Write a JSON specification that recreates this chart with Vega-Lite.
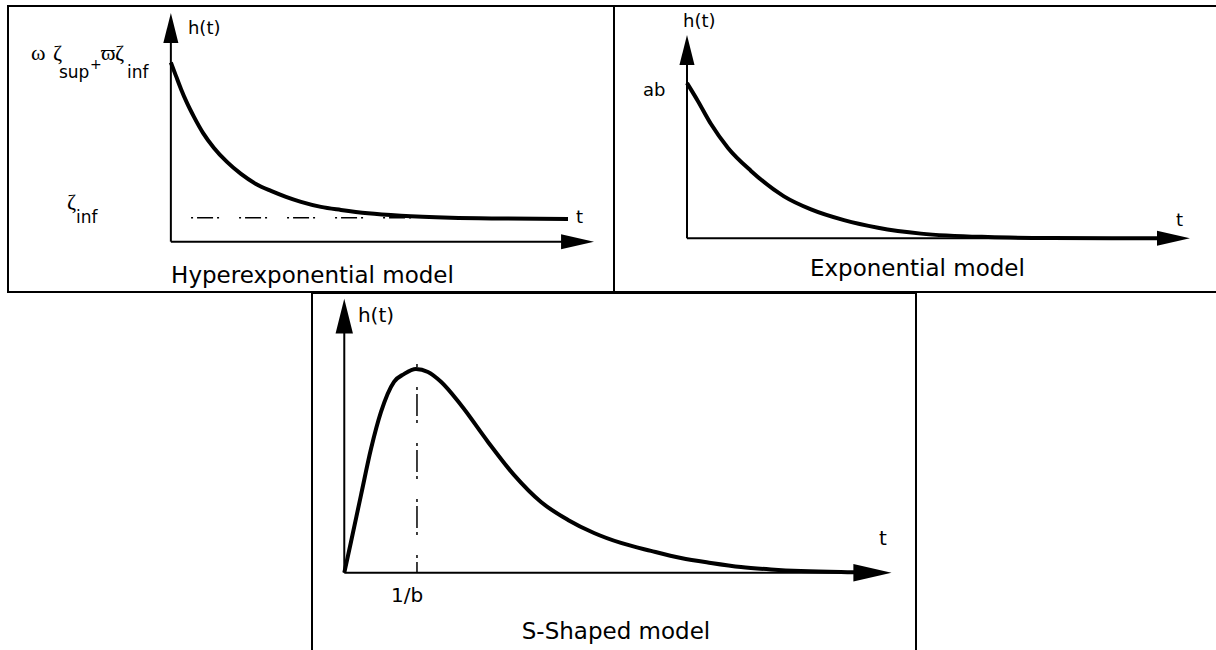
{
  "$schema": "https://vega.github.io/schema/vega-lite/v6.json",
  "background": "white",
  "padding": {"left": 7, "top": 5, "right": 0, "bottom": 0},
  "config": {"view": {"stroke": null}, "concat": {"spacing": 0}},
  "spacing": -2,
  "vconcat": [
    {
      "hconcat": [
        {
          "width": 606,
          "height": 286,
          "view": {"stroke": "black", "strokeWidth": 2},
          "encoding": {
            "x": {"field": "t", "type": "quantitative", "scale": {"domain": [-3.87, 10.53], "nice": false, "zero": false}, "axis": null},
            "y": {"field": "h", "type": "quantitative", "scale": {"domain": [-0.281, 1.315], "nice": false, "zero": false}, "axis": null}
          },
          "layer": [
            {
              "data": {"values": [
                {"t": 0, "h": 0, "t2": 0, "h2": 1.19},
                {"t": 0, "h": 0, "t2": 9.66, "h2": 0}
              ]},
              "mark": {"type": "rule", "color": "black", "strokeWidth": 2},
              "encoding": {"x2": {"field": "t2"}, "y2": {"field": "h2"}}
            },
            {
              "data": {"values": [
                {"t": 0.48, "h": 0.133, "t2": 9.44, "h2": 0.133}
              ]},
              "mark": {"type": "rule", "color": "black", "strokeWidth": 1.5, "strokeDash": [2, 4, 16, 4, 2, 20]},
              "encoding": {"x2": {"field": "t2"}, "y2": {"field": "h2"}}
            },
            {
              "data": {"values": [
                {"t": 0, "h": 1.0}, {"t": 0.121, "h": 0.925}, {"t": 0.24, "h": 0.852},
                {"t": 0.383, "h": 0.774}, {"t": 0.549, "h": 0.696}, {"t": 0.763, "h": 0.607},
                {"t": 1.024, "h": 0.523}, {"t": 1.333, "h": 0.445}, {"t": 1.666, "h": 0.378},
                {"t": 2.022, "h": 0.322}, {"t": 2.379, "h": 0.283}, {"t": 2.735, "h": 0.25},
                {"t": 3.092, "h": 0.222}, {"t": 3.567, "h": 0.194}, {"t": 4.042, "h": 0.177},
                {"t": 4.684, "h": 0.158}, {"t": 5.468, "h": 0.144}, {"t": 6.656, "h": 0.133},
                {"t": 7.844, "h": 0.129}, {"t": 9.437, "h": 0.127}
              ]},
              "mark": {"type": "line", "interpolate": "monotone", "color": "black", "strokeWidth": 4}
            },
            {
              "data": {"values": [
                {"t": 0, "h": 1.1925, "dir": "up"},
                {"t": 9.663, "h": 0, "dir": "right"}
              ]},
              "mark": {"type": "point", "filled": true, "opacity": 1, "color": "black", "size": 1024, "strokeWidth": 0},
              "encoding": {
                "shape": {"field": "dir", "type": "nominal", "legend": null,
                  "scale": {"domain": ["up", "right"], "range": ["M0,-0.94L0.47,0.94L-0.47,0.94Z", "M1.03,0L-1.03,-0.47L-1.03,0.47Z"]}}
              }
            },
            {
              "data": {"values": [
                {"t": 0.406, "h": 1.159, "label": "h(t)"},
                {"t": 9.626, "h": 0.104, "label": "t"}
              ]},
              "mark": {"type": "text", "align": "left", "baseline": "alphabetic", "font": "DejaVu Sans", "fontSize": 18, "color": "black"},
              "encoding": {"text": {"field": "label"}}
            },
            {
              "data": {"values": [
                {"t": -3.325, "h": 1.014, "label": "ω"},
                {"t": -2.802, "h": 1.014, "label": "ζ"},
                {"t": -1.661, "h": 1.014, "label": "ϖ"},
                {"t": -1.328, "h": 1.014, "label": "ζ"},
                {"t": -2.469, "h": 0.1825, "label": "ζ"}
              ]},
              "mark": {"type": "text", "align": "left", "baseline": "alphabetic", "font": "Liberation Serif, DejaVu Serif", "fontSize": 22, "color": "black"},
              "encoding": {"text": {"field": "label"}}
            },
            {
              "data": {"values": [
                {"t": -2.659, "h": 0.911, "label": "sup"},
                {"t": -1.043, "h": 0.911, "label": "inf"},
                {"t": -2.255, "h": 0.104, "label": "inf"}
              ]},
              "mark": {"type": "text", "align": "left", "baseline": "alphabetic", "font": "DejaVu Sans", "fontSize": 17, "color": "black"},
              "encoding": {"text": {"field": "label"}}
            },
            {
              "data": {"values": [
                {"t": -1.923, "h": 0.964, "label": "+"}
              ]},
              "mark": {"type": "text", "align": "left", "baseline": "alphabetic", "font": "DejaVu Sans", "fontSize": 14, "color": "black"},
              "encoding": {"text": {"field": "label"}}
            },
            {
              "data": {"values": [
                {"t": 3.365, "h": -0.229, "label": "Hyperexponential model"}
              ]},
              "mark": {"type": "text", "align": "center", "baseline": "alphabetic", "font": "DejaVu Sans", "fontSize": 23, "color": "black"},
              "encoding": {"text": {"field": "label"}}
            }
          ]
        },
        {
          "width": 603,
          "height": 286,
          "view": {"stroke": "black", "strokeWidth": 2},
          "encoding": {
            "x": {"field": "t", "type": "quantitative", "scale": {"domain": [-1.454, 10.558], "nice": false, "zero": false}, "axis": null},
            "y": {"field": "h", "type": "quantitative", "scale": {"domain": [-0.346, 1.496], "nice": false, "zero": false}, "axis": null}
          },
          "layer": [
            {
              "data": {"values": [
                {"t": 0, "h": 0, "t2": 0, "h2": 1.21},
                {"t": 0, "h": 0, "t2": 9.69, "h2": 0}
              ]},
              "mark": {"type": "rule", "color": "black", "strokeWidth": 2},
              "encoding": {"x2": {"field": "t2"}, "y2": {"field": "h2"}}
            },
            {
              "data": {"values": [
                {"t": 0, "h": 1.0}, {"t": 0.219, "h": 0.883}, {"t": 0.478, "h": 0.736},
                {"t": 0.817, "h": 0.582}, {"t": 1.275, "h": 0.434}, {"t": 1.932, "h": 0.27},
                {"t": 2.47, "h": 0.186}, {"t": 3.127, "h": 0.117}, {"t": 3.805, "h": 0.068},
                {"t": 4.661, "h": 0.03}, {"t": 5.996, "h": 0.008}, {"t": 7.251, "h": 0.002},
                {"t": 9.382, "h": 0.0}
              ]},
              "mark": {"type": "line", "interpolate": "monotone", "color": "black", "strokeWidth": 4}
            },
            {
              "data": {"values": [
                {"t": 0, "h": 1.2125, "dir": "up"},
                {"t": 9.691, "h": 0, "dir": "right"}
              ]},
              "mark": {"type": "point", "filled": true, "opacity": 1, "color": "black", "size": 1024, "strokeWidth": 0},
              "encoding": {
                "shape": {"field": "dir", "type": "nominal", "legend": null,
                  "scale": {"domain": ["up", "right"], "range": ["M0,-1L0.47,1L-0.47,1Z", "M0.97,0L-0.97,-0.44L-0.97,0.44Z"]}}
              }
            },
            {
              "data": {"values": [
                {"t": -0.08, "h": 1.361, "label": "h(t)"},
                {"t": -0.876, "h": 0.917, "label": "ab"},
                {"t": 9.741, "h": 0.079, "label": "t"}
              ]},
              "mark": {"type": "text", "align": "left", "baseline": "alphabetic", "font": "DejaVu Sans", "fontSize": 18, "color": "black"},
              "encoding": {"text": {"field": "label"}}
            },
            {
              "data": {"values": [
                {"t": 4.59, "h": -0.243, "label": "Exponential model"}
              ]},
              "mark": {"type": "text", "align": "center", "baseline": "alphabetic", "font": "DejaVu Sans", "fontSize": 23, "color": "black"},
              "encoding": {"text": {"field": "label"}}
            }
          ]
        }
      ],
      "spacing": 0,
      "bounds": "flush"
    },
    {
      "hconcat": [
        {
          "width": 304,
          "height": 361,
          "view": {"stroke": null},
          "data": {"values": []},
          "mark": "point"
        },
        {
          "width": 604,
          "height": 361,
          "view": {"stroke": "black", "strokeWidth": 2},
          "encoding": {
            "x": {"field": "t", "type": "quantitative", "scale": {"domain": [-0.444, 7.864], "nice": false, "zero": false}, "axis": null},
            "y": {"field": "h", "type": "quantitative", "scale": {"domain": [-0.399, 1.373], "nice": false, "zero": false}, "axis": null}
          },
          "layer": [
            {
              "data": {"values": [
                {"t": 0, "h": 0, "t2": 0, "h2": 1.26},
                {"t": 0, "h": 0, "t2": 7.265, "h2": 0}
              ]},
              "mark": {"type": "rule", "color": "black", "strokeWidth": 2},
              "encoding": {"x2": {"field": "t2"}, "y2": {"field": "h2"}}
            },
            {
              "data": {"values": [
                {"t": 1.0, "h": 1.025, "t2": 1.0, "h2": 0}
              ]},
              "mark": {"type": "rule", "color": "black", "strokeWidth": 1.5, "strokeDash": [3, 20, 3, 4, 22, 4]},
              "encoding": {"x2": {"field": "t2"}, "y2": {"field": "h2"}}
            },
            {
              "data": {"values": [
                {"t": 0, "h": 0}, {"t": 0.092, "h": 0.151}, {"t": 0.23, "h": 0.381},
                {"t": 0.367, "h": 0.607}, {"t": 0.505, "h": 0.789}, {"t": 0.684, "h": 0.937},
                {"t": 0.821, "h": 0.975}, {"t": 0.986, "h": 1.0}, {"t": 1.151, "h": 0.985},
                {"t": 1.33, "h": 0.937}, {"t": 1.605, "h": 0.823}, {"t": 1.977, "h": 0.642},
                {"t": 2.334, "h": 0.48}, {"t": 2.706, "h": 0.347}, {"t": 3.077, "h": 0.259},
                {"t": 3.435, "h": 0.195}, {"t": 3.806, "h": 0.146}, {"t": 4.219, "h": 0.107},
                {"t": 4.631, "h": 0.072}, {"t": 5.044, "h": 0.048}, {"t": 5.457, "h": 0.028},
                {"t": 5.869, "h": 0.016}, {"t": 6.282, "h": 0.008}, {"t": 6.832, "h": 0.003},
                {"t": 7.1, "h": 0.002}
              ]},
              "mark": {"type": "line", "interpolate": "monotone", "color": "black", "strokeWidth": 4}
            },
            {
              "data": {"values": [
                {"t": 0, "h": 1.26, "dir": "up"},
                {"t": 7.265, "h": 0, "dir": "right"}
              ]},
              "mark": {"type": "point", "filled": true, "opacity": 1, "color": "black", "size": 1369, "strokeWidth": 0},
              "encoding": {
                "shape": {"field": "dir", "type": "nominal", "legend": null,
                  "scale": {"domain": ["up", "right"], "range": ["M0,-0.865L0.478,0.865L-0.478,0.865Z", "M1,0L-1,-0.46L-1,0.46Z"]}}
              }
            },
            {
              "data": {"values": [
                {"t": 0.188, "h": 1.231, "label": "h(t)"},
                {"t": 7.355, "h": 0.135, "label": "t"},
                {"t": 0.642, "h": -0.144, "label": "1/b"}
              ]},
              "mark": {"type": "text", "align": "left", "baseline": "alphabetic", "font": "DejaVu Sans", "fontSize": 20, "color": "black"},
              "encoding": {"text": {"field": "label"}}
            },
            {
              "data": {"values": [
                {"t": 3.737, "h": -0.324, "label": "S-Shaped model"}
              ]},
              "mark": {"type": "text", "align": "center", "baseline": "alphabetic", "font": "DejaVu Sans", "fontSize": 23, "color": "black"},
              "encoding": {"text": {"field": "label"}}
            }
          ]
        }
      ],
      "spacing": 0,
      "bounds": "flush"
    }
  ]
}
